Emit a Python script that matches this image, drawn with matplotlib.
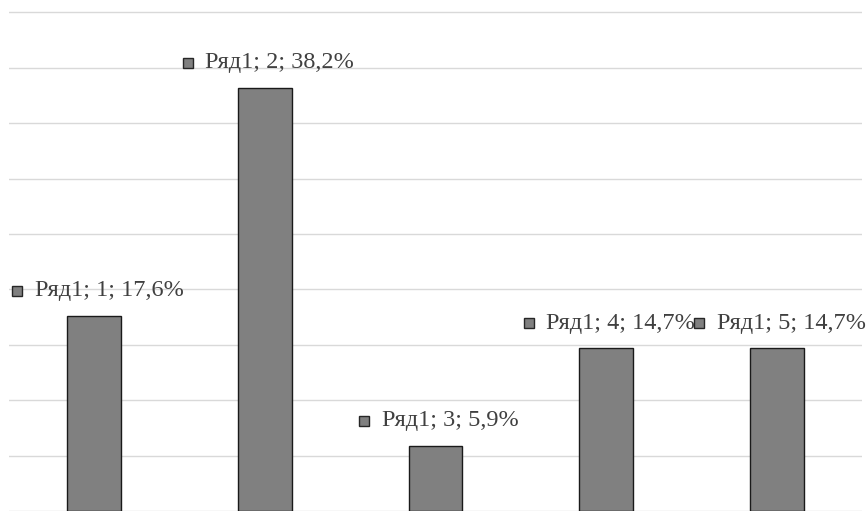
import matplotlib
matplotlib.use('Agg')
import matplotlib.pyplot as plt
from matplotlib.offsetbox import AnnotationBbox, DrawingArea, HPacker, TextArea
from matplotlib.patches import Rectangle

# Data
series_name = 'Ряд1'
categories = ['1', '2', '3', '4', '5']
values = [17.6, 38.2, 5.9, 14.7, 14.7]
value_labels = ['17,6%', '38,2%', '5,9%', '14,7%', '14,7%']

plt.rcParams['font.family'] = ['Liberation Serif', 'DejaVu Serif']

fig = plt.figure(figsize=(8.67, 5.11), dpi=100)
ax = fig.add_axes([9 / 867, 0, 853 / 867, 1])

x = list(range(len(categories)))
ax.bar(x, values, width=0.315, color='#808080', edgecolor='#1a1a1a',
       linewidth=1.0, zorder=3)

ax.set_xlim(-0.5, len(categories) - 0.5)
ax.set_ylim(0.17, 46.12)
ax.set_yticks(range(0, 50, 5))
ax.yaxis.grid(True, color='#d9d9d9', linewidth=1.0, zorder=0)
ax.set_xticks([])
ax.tick_params(left=False, labelleft=False)
for s in ax.spines.values():
    s.set_visible(False)

# Data labels with a small legend key in front
for xi, cat, v, lab in zip(x, categories, values, value_labels):
    key = DrawingArea(7.2, 7.2, 0, 0)
    key.add_artist(Rectangle((0, 0), 7.2, 7.2, facecolor='#808080',
                             edgecolor='#262626', linewidth=1.0))
    txt = TextArea(f'{series_name}; {cat}; {lab}',
                   textprops=dict(fontsize=17.5, color='#404040'))
    box = HPacker(children=[key, txt], align='center', pad=0, sep=9.0)
    ab = AnnotationBbox(box, (xi, v), xybox=(2.5, 18), xycoords='data',
                        boxcoords='offset points', box_alignment=(0.5, 0.5),
                        frameon=False, zorder=4)
    ax.add_artist(ab)

fig.savefig('out.png', dpi=100)
